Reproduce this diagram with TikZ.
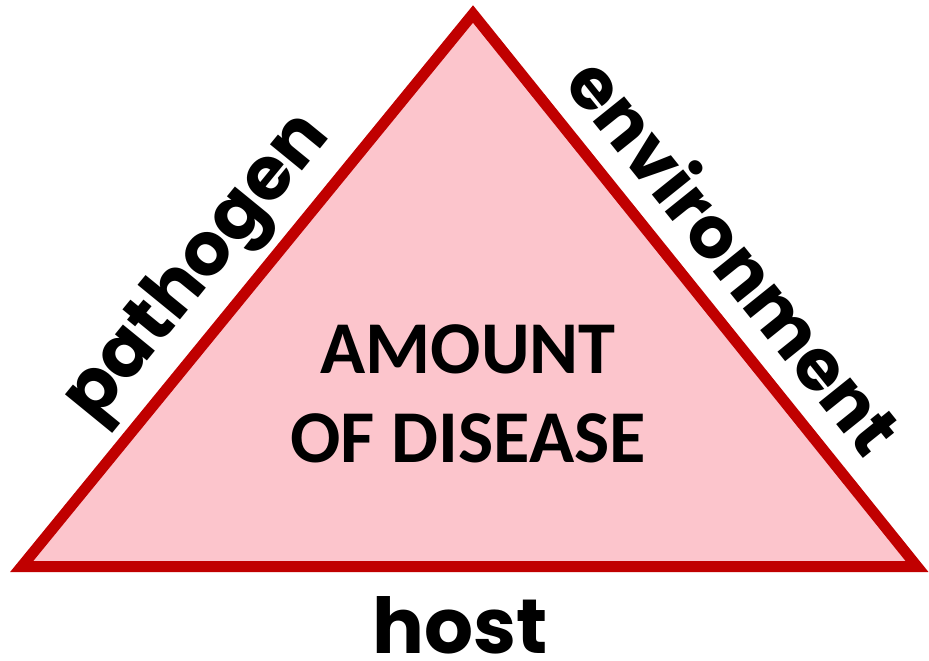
\documentclass[tikz,border=0pt]{standalone}
\usepackage{fontspec}
\newfontfamily\diseasefont{Carlito}
\newfontfamily\factorfont{Poppins}
\usetikzlibrary{positioning}

\definecolor{triangleRed}{RGB}{192,0,0}
\definecolor{trianglePink}{RGB}{252,197,204}

\begin{document}
\begin{tikzpicture}[
        x=1pt, y=-1pt,
        triangle/.style={draw=triangleRed, fill=trianglePink, line width=11pt,
            line join=miter},
        factor/.style={font=\factorfont\bfseries\fontsize{74}{90}\selectfont,
            inner sep=0pt},
        amount/.style={font=\diseasefont\bfseries\fontsize{74.5}{89}\selectfont,
            align=center, inner sep=0pt},
    ]
        \useasboundingbox (0,0) rectangle (929,661);

        % corners of the triangle
        \coordinate (top) at (473,14);
        \coordinate (left) at (21.7,566.5);
        \coordinate (right) at (917,566.5);

        \draw[triangle] (left) -- (top) -- (right) -- cycle;

        \node[amount, anchor=base] (amount) at (468,462)
            {AMOUNT\\OF DISEASE};

        % the three factors
        \path (left) -- (top)
            node[factor, pos=0.48, sloped, above=33pt, anchor=base] (pathogen) {pathogen};
        \path (top) -- (right)
            node[factor, font=\factorfont\bfseries\fontsize{72}{90}\selectfont,
                pos=0.497, sloped, above=26pt, anchor=base] (environment) {environment};
        \path (left) -- (right)
            node[factor, font=\factorfont\bfseries\fontsize{77}{90}\selectfont,
                pos=0.49, below=87pt, anchor=base] (host) {host};
    \end{tikzpicture}
\end{document}
